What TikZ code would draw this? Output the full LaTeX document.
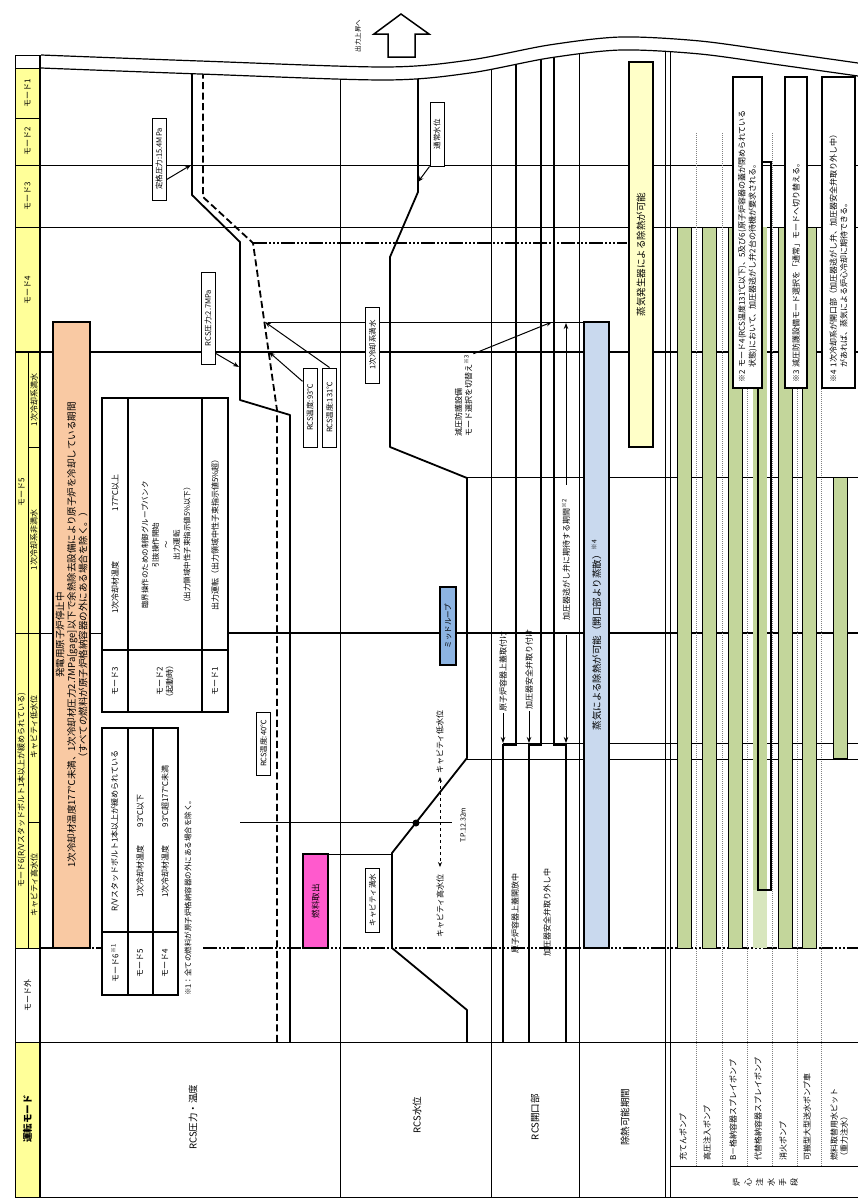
\documentclass[tikz,border=0pt]{standalone}
\usepackage{fontspec}
\setmainfont{Noto Sans CJK JP}
\usetikzlibrary{arrows.meta}
\definecolor{hdr}{HTML}{FFFF99}
\definecolor{peach}{HTML}{F9C9A3}
\definecolor{sgy}{HTML}{FFFFC8}
\definecolor{evap}{HTML}{C9D9EE}
\definecolor{midl}{HTML}{8DB4E2}
\definecolor{fuel}{HTML}{FF5ACD}
\definecolor{pump}{HTML}{C3D69B}
\definecolor{pumpl}{HTML}{D8E6BE}
\newcommand{\fsz}[2]{\fontsize{#1}{#2}\selectfont}
\tikzset{
  gl/.style={line width=0.7pt},
  thk/.style={line width=1.8pt},
  ddot/.style={line width=1.8pt, dash pattern=on 14pt off 2pt on 2pt off 2pt on 2pt off 2pt on 2pt off 2pt},
  dvd/.style={gray, line width=0.6pt, dash pattern=on 1pt off 1pt},
  rt/.style={rotate=90, inner sep=1pt, font=\fsz{8}{10}},
  tag/.style={rotate=90, draw, line width=1pt, fill=white, inner sep=1.5pt, minimum height=14pt, font=\fsz{7.5}{9}},
  vbox/.style={rotate=90, draw, line width=1.5pt, inner sep=0pt, outer sep=0pt, align=center},
  bar/.style={fill=pump, draw=black, line width=1pt},
  arr/.style={line width=1pt, -{Stealth[length=6pt,width=4.5pt]}},
  lbl/.style={rotate=90, inner sep=1pt, font=\fsz{9.5}{11}},
}
\begin{document}
\begin{tikzpicture}[x=1pt,y=-1pt]
\useasboundingbox (0,0) rectangle (858,1202);
\fill[white] (0,0) rectangle (858,1202);
% header fills
\fill[hdr] (15,68) rectangle (40,948);
\fill[hdr] (15,1042) rectangle (40,1197);

% grid
\draw[gl] (15,55) -- (15,1197);
\draw[gl] (15,55) -- (40,55);
\draw[gl] (15,68) -- (40,68);
\draw[gl] (15,118) -- (40,118);
\draw[gl] (15,165) -- (858,165);
\draw[gl] (15,227) -- (858,227);
\draw[thk] (15,352) -- (858,352);
\draw[gl] (15,633) -- (102,633);
\draw[thk] (228,633) -- (858,633);
\draw[gl] (15,948) -- (40,948);
\draw[ddot] (40,948) -- (102,948);
\draw[ddot] (203,948) -- (858,948);
\draw[gl] (15,1042) -- (858,1042);
\draw[gl] (15,1197) -- (858,1197);
\draw[gl] (28,352) -- (28,948);
\draw[gl] (28,447) -- (40,447);
\draw[gl] (28,822) -- (40,822);
\foreach \x in {340,491,579,665,670,858} \draw[gl] (\x,30) -- (\x,1197);
\draw[gl] (670,1166) -- (858,1166);
\foreach \x in {696,722,747,772,797,821} \draw[dvd] (\x,133) -- (\x,1166);
% partial lines
\draw[ddot] (253,243) -- (627,243);
\draw[gl] (268,322) -- (583,322);
\draw[gl] (467,477) -- (858,477);
\draw[gl] (503,743) -- (858,743);
\draw[gl] (467,759) -- (858,759);
\draw[gl] (240,822) -- (452,822);
\draw[gl] (328,854) -- (392,854);

% pump bars
\foreach \a in {677,702,728,778,802} \draw[bar] (\a,227) rectangle (\a+14,948);
\fill[pump] (753,227) rectangle (767,890);
\fill[pumpl] (753,890) rectangle (767,948);
\draw[line width=1.2pt] (758,162) rectangle (771,890);
\draw[bar] (833,477) rectangle (847,758);

% RCS pressure / temperature
\draw[thk, line join=round] (192,40) -- (192,195) -- (240,242) -- (240,400) -- (290,415) -- (290,1042);
\draw[thk, dash pattern=on 7pt off 3.5pt] (203,40) -- (203,197) -- (253,243) -- (277,410) -- (277,1042);
% RCS water level
\draw[thk, line join=round] (418,40) -- (418,192) -- (390,257) -- (390,447) -- (467,478) -- (467,758) -- (392,853) -- (392,948) -- (467,1010) -- (467,1042);
\fill (416,823) circle (3.5);
% RCS openings
\draw[thk] (516,40) -- (516,745) -- (503,745) -- (503,1042);
\draw[thk] (541,40) -- (541,745) -- (529,745) -- (529,1042);
\draw[thk] (554,40) -- (554,745) -- (566,745) -- (566,1042);

% top break
\fill[white] (41,0) -- plot[smooth] coordinates {(41,68) (200,74) (385,80) (470,73) (549,58) (621,50) (700,54) (780,65) (858,76)} -- (858,0) -- cycle;
\draw[line width=1.2pt] plot[smooth] coordinates {(41,55) (200,61) (385,67) (470,60) (549,45) (621,37) (700,41) (780,52) (858,63)};
\draw[line width=1.2pt] plot[smooth] coordinates {(41,68) (200,74) (385,80) (470,73) (549,58) (621,50) (700,54) (780,65) (858,76)};
\draw[thk] (40,55) -- (40,1197);
\draw[line width=1.5pt, fill=white, line join=miter] (401,14) -- (429,34) -- (415,34) -- (415,57) -- (388,57) -- (388,34) -- (374,34) -- cycle;
\node[rt, font=\fsz{6.5}{8}] (up) at (358,36) {出力上昇へ};

% big boxes
\node[vbox, fill=peach, minimum width=626pt, minimum height=37pt, font=\fsz{9.5}{11.5}] (peachbox) at (71.5,635) {発電用原子炉停止中\\1次冷却材温度177℃未満、1次冷却材圧力2.7MPa[gage]以下で余熱除去設備により原子炉を冷却している期間\\（すべての燃料が原子炉格納容器の外にある場合を除く。）};
\node[vbox, fill=evap, minimum width=626pt, minimum height=25pt, font=\fsz{9.5}{11}] (evapbox) at (596.5,635) {蒸気による除熱が可能（開口部より蒸散）\textsuperscript{※4}};
\node[vbox, fill=sgy, minimum width=385pt, minimum height=24pt, font=\fsz{9.5}{11}] (sgbox) at (641,254.5) {蒸気発生器による除熱が可能};
\node[vbox, fill=fuel, line width=1.2pt, minimum width=94pt, minimum height=25pt, font=\fsz{8.5}{10}] (fuelout) at (315.5,901) {燃料取出};
\node[vbox, fill=midl, line width=1.2pt, minimum width=78pt, minimum height=16pt, font=\fsz{7.5}{9}] (mid) at (448,626) {ミッドループ};

% notes
\node[vbox, fill=white, minimum width=311pt, minimum height=29pt, text width=300pt, align=left, font=\fsz{8}{10.5}] (n2) at (747.5,232.5) {※2 モード4(RCS温度131℃以下)、5及び6(原子炉容器の蓋が閉められている\\\phantom{※2 }状態)において、加圧器逃がし弁2台の待機が要求される。};
\node[vbox, fill=white, minimum width=311pt, minimum height=22pt, text width=300pt, align=left, font=\fsz{8}{10.5}] (n3) at (796,232.5) {※3 減圧防護設備モード選択を「通常」モードへ切り替える。};
\node[vbox, fill=white, minimum width=311pt, minimum height=33pt, text width=300pt, align=left, font=\fsz{8}{10.5}] (n4) at (838.5,232.5) {※4 1次冷却系が開口部（加圧器逃がし弁、加圧器安全弁取り外し中）\\\phantom{※4 }があれば、蒸気による炉心冷却に期待できる。};

% table modes 1-3
\draw[line width=1.3pt, fill=white] (102,398) rectangle (228,712);
\draw[line width=1.3pt] (128,398) -- (128,712) (202,398) -- (202,712) (102,650) -- (228,650);
\node[rt, anchor=west] (t1a) at (115,615) {1次冷却材温度\hspace{50pt}177℃以上};
\node[rt, align=center, font=\fsz{7.5}{10.5}] (t1b) at (166,545) {臨界操作のための制御グループバンク\\引抜操作開始\\〜\\出力運転\\（出力領域中性子束指示値5\%以下）};
\node[rt] (t1c) at (215,533) {出力運転（出力領域中性子束指示値5\%超）};
\node[rt] (m3) at (115,681) {モード3};
\node[rt, align=center] (m2) at (165,681) {モード2\\（起動時）};
\node[rt] (m1) at (215,681) {モード1};

% table modes 4-6
\draw[line width=1.3pt, fill=white] (102,728) rectangle (178,995);
\draw[line width=1.3pt] (128,728) -- (128,995) (153,728) -- (153,995) (102,932) -- (178,932);
\node[rt] (t2a) at (115,831) {R/Vスタッドボルト1本以上が緩められている};
\node[rt, anchor=west] (t2b) at (140,899) {1次冷却材温度\hspace{18pt}93℃以下};
\node[rt, anchor=west] (t2c) at (165,899) {1次冷却材温度\hspace{18pt}93℃超177℃未満};
\node[rt] (m6) at (115,963) {モード6\textsuperscript{※1}};
\node[rt] (m5) at (140,963) {モード5};
\node[rt] (m4) at (165,963) {モード4};
\node[rt, anchor=west, font=\fsz{7.5}{9}] (n1) at (188,997) {※1：全ての燃料が原子炉格納容器の外にある場合を除く。};

% tags
\node[tag, minimum width=82pt] (tP15) at (159,159) {定格圧力:15.4MPa};
\node[tag, minimum width=92pt] (tP27) at (208,318) {RCS圧力:2.7MPa};
\node[tag, minimum width=79pt] (tT93) at (310,407.5) {RCS温度:93℃};
\node[tag, minimum width=79pt] (tT131) at (329.5,407.5) {RCS温度:131℃};
\node[tag, minimum width=63pt] (tT40) at (263.5,743.5) {RCS温度:40℃};
\node[tag, minimum width=76pt] (tFull) at (372.5,345) {1次冷却系満水};
\node[tag, minimum width=64pt] (tNorm) at (437,134) {通常水位};
\node[tag, minimum width=64pt] (tCav) at (372.5,900) {キャビティ満水};

\coordinate (c15) at (191,165);
\coordinate (c27) at (239,367);
\coordinate (c93) at (269,352);
\coordinate (c131) at (265,322);
\coordinate (cNorm) at (418,182);
\coordinate (cGen) at (552,322);
\draw[arr] (tP15.-160) -- (c15);
\draw[arr] (tP27.-168) -- (c27);
\draw[arr] (tT93.16) -- (c93);
\draw[arr] (tT131.east) -- (c131);
\draw[arr] (tNorm.north west) -- (cNorm);

% water level labels
\node[rt] (tLow) at (440,742) {キャビティ低水位};
\node[rt] (tHigh) at (440,906) {キャビティ高水位};
\draw[line width=1pt, dashed, {Stealth[length=5pt,width=4pt]}-{Stealth[length=5pt,width=4pt]}, shorten <=2pt, shorten >=6pt] (tLow.west) -- (tHigh.east);
\node[rt, font=\fsz{7}{8}] (tTP) at (463,825) {T.P.12.32m};

% opening labels
\node[rt, anchor=west, align=left] (tGen) at (463.5,438) {減圧防護設備\\モード選択を切替え\textsuperscript{※3}};
\draw[arr] (tGen.south east) -- (cGen);
\node[rt, anchor=west] (tLid) at (503,713) {原子炉容器上蓋取付け};
\coordinate (cLid) at (503,743);
\draw[arr] (tLid.west) -- (cLid);
\node[rt, anchor=west] (tSafe) at (529,711) {加圧器安全弁取り付け};
\coordinate (cSafe) at (529,743);
\draw[arr] (tSafe.west) -- (cSafe);
\node[rt, inner xsep=14pt] (tKiki) at (566,560) {加圧器逃がし弁に期待する期間\textsuperscript{※2}};
\coordinate (cK1) at (566,323);
\coordinate (cK2) at (566,743);
\draw[line width=0.8pt, -{Stealth[length=6pt,width=4.5pt]}] (tKiki.east) -- (cK1);
\draw[line width=0.8pt, -{Stealth[length=6pt,width=4.5pt]}] (tKiki.west) -- (cK2);
\node[rt, anchor=west] (tOpen1) at (515,955) {原子炉容器上蓋開放中};
\node[rt, anchor=west] (tOpen2) at (547,958) {加圧器安全弁取り外し中};

% header labels
\node[rt] (h1) at (27.5,93) {モード1};
\node[rt] (h2) at (27.5,141.5) {モード2};
\node[rt] (h3) at (27.5,196) {モード3};
\node[rt] (h4) at (27.5,290) {モード4};
\node[rt] (h5) at (21.5,492) {モード5};
\node[rt] (h5a) at (34,400) {1次冷却系満水};
\node[rt] (h5b) at (34,540) {1次冷却系非満水};
\node[rt] (h6) at (21.5,790) {モード6(R/Vスタッドボルト1本以上が緩められている)};
\node[rt] (h6a) at (34,727) {キャビティ低水位};
\node[rt] (h6b) at (34,885) {キャビティ高水位};
\node[rt] (hout) at (27.5,995) {モード外};
\node[lbl, font=\bfseries\fsz{9.5}{11}] (hmode) at (27.5,1119) {運転モード};

% row labels
\node[lbl] (r1) at (193,1117) {RCS圧力・温度};
\node[lbl] (r2) at (417,1115) {RCS水位};
\node[lbl] (r3) at (535,1117) {RCS開口部};
\node[lbl] (r4) at (625,1117) {除熱可能期間};

% pump labels
\node[rt, anchor=west] (p1) at (683,1162) {充てんポンプ};
\node[rt, anchor=west] (p2) at (707,1162) {高圧注入ポンプ};
\node[rt, anchor=west] (p3) at (733,1162) {B－格納容器スプレイポンプ};
\node[rt, anchor=west] (p4) at (758,1162) {代替格納容器スプレイポンプ};
\node[rt, anchor=west] (p5) at (783,1162) {消火ポンプ};
\node[rt, anchor=west] (p6) at (807,1162) {可搬型大型送水ポンプ車};
\node[rt, anchor=west, align=left] (p7) at (839,1162) {燃料取替用水ピット\\（重力注水）};
\foreach \c [count=\i] in {炉,心,注,水,手,段} \node[rt] (k\i) at (725+11.5*\i,1182) {\c};
\end{tikzpicture}
\end{document}
